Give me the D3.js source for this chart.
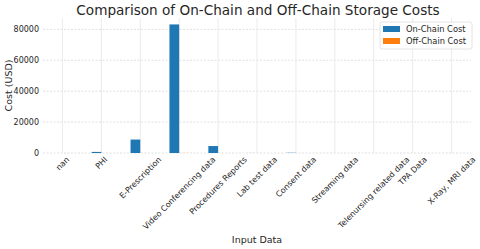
<!DOCTYPE html>
<html>
<head>
<meta charset="utf-8">
<script src="https://cdn.jsdelivr.net/npm/d3@7"></script>
<style>
  body { margin: 0; background: white; }
  text { font-family: "DejaVu Sans", sans-serif; fill: #262626; }
</style>
</head>
<body>
<div id="canvas"></div>
<script>
// Chart size
var w = 480;
var h = 249;
var margin = {top: 18, right: 9, bottom: 96, left: 43};

// Data
var categories = ["nan", "PHI", "E-Prescription", "Video Conferencing data", "Procedures Reports",
    "Lab test data", "Consent data", "Streaming data", "Telenursing related data", "TPA Data", "X-Ray, MRI data"];
var onChain = [0, 700, 8700, 83200, 4500, 20, 150, 10, 10, 10, 10];
var offChain = [0, 1, 5, 40, 3, 0.5, 0.5, 0.5, 0.5, 0.5, 0.5];
var series = ["On-Chain Cost", "Off-Chain Cost"];
var colors = ["#1f77b4", "#ff7f0e"];
var yTicks = [0, 20000, 40000, 60000, 80000];

var svg = d3.select("#canvas")
    .append("svg")
    .attr("width", w)
    .attr("height", h);

// Scales
var x = d3.scaleLinear()
    .domain([-0.5, categories.length - 0.5])
    .range([margin.left, w - margin.right]);

var y = d3.scaleLinear()
    .domain([0, d3.max(onChain) * 1.05])
    .range([h - margin.bottom, margin.top]);

var step = x(1) - x(0);
var barW = step * 0.25;

// Grid lines
svg.append("g")
    .selectAll("line")
    .data(yTicks)
    .join("line")
    .attr("x1", margin.left)
    .attr("x2", w - margin.right)
    .attr("y1", d => y(d))
    .attr("y2", d => y(d))
    .attr("stroke", "#d9d9d9")
    .attr("stroke-width", 0.8)
    .attr("stroke-dasharray", "2,1.5");

svg.append("g")
    .selectAll("line")
    .data(categories)
    .join("line")
    .attr("x1", (d, i) => x(i))
    .attr("x2", (d, i) => x(i))
    .attr("y1", margin.top)
    .attr("y2", h - margin.bottom)
    .attr("stroke", "#e6e6e6")
    .attr("stroke-width", 0.8);

// Bars
var groups = [onChain, offChain];
groups.forEach(function(vals, s) {
    svg.append("g")
        .selectAll("rect")
        .data(vals)
        .join("rect")
        .attr("x", (d, i) => x(i) - barW + s * barW)
        .attr("y", d => y(d))
        .attr("width", barW)
        .attr("height", d => y(0) - y(d))
        .attr("fill", colors[s]);
});

// Y axis labels
svg.append("g")
    .selectAll("text")
    .data(yTicks)
    .join("text")
    .attr("x", margin.left - 4)
    .attr("y", d => y(d))
    .attr("dy", "0.35em")
    .attr("text-anchor", "end")
    .style("font-size", "8px")
    .text(d => d);

// X axis labels, rotated 45deg and centred on the tick (like matplotlib rot=45)
var fs = 8;
var labelTop = h - margin.bottom + 2;
svg.append("g")
    .selectAll("text")
    .data(categories)
    .join("text")
    .attr("text-anchor", "middle")
    .attr("dy", "0.35em")
    .style("font-size", fs + "px")
    .text(d => d)
    .each(function(d, i) {
        var len = this.getComputedTextLength();
        var half = (len + fs * 1.1) * Math.SQRT1_2 / 2;
        d3.select(this).attr("transform", `translate(${x(i)},${labelTop + half}) rotate(-45)`);
    });

// Title and axis titles
svg.append("text")
    .attr("x", (margin.left + w - margin.right) / 2 + 1)
    .attr("y", 15)
    .attr("text-anchor", "middle")
    .style("font-size", "13.6px")
    .text("Comparison of On-Chain and Off-Chain Storage Costs");

svg.append("text")
    .attr("transform", `translate(12,${(margin.top + h - margin.bottom) / 2}) rotate(-90)`)
    .attr("text-anchor", "middle")
    .style("font-size", "9.5px")
    .text("Cost (USD)");

svg.append("text")
    .attr("x", (margin.left + w - margin.right) / 2)
    .attr("y", 243)
    .attr("text-anchor", "middle")
    .style("font-size", "9.5px")
    .text("Input Data");

// Legend
var lg = svg.append("g").attr("transform", "translate(380,22)");
lg.append("rect")
    .attr("width", 92)
    .attr("height", 27)
    .attr("rx", 2)
    .attr("fill", "white")
    .attr("fill-opacity", 0.8)
    .attr("stroke", "#dddddd")
    .attr("stroke-width", 0.8);
series.forEach(function(name, i) {
    lg.append("rect")
        .attr("x", 3)
        .attr("y", 4 + i * 12)
        .attr("width", 17)
        .attr("height", 6)
        .attr("fill", colors[i]);
    lg.append("text")
        .attr("x", 26)
        .attr("y", 7 + i * 12)
        .attr("dy", "0.35em")
        .style("font-size", "8.3px")
        .text(name);
});
</script>
</body>
</html>
